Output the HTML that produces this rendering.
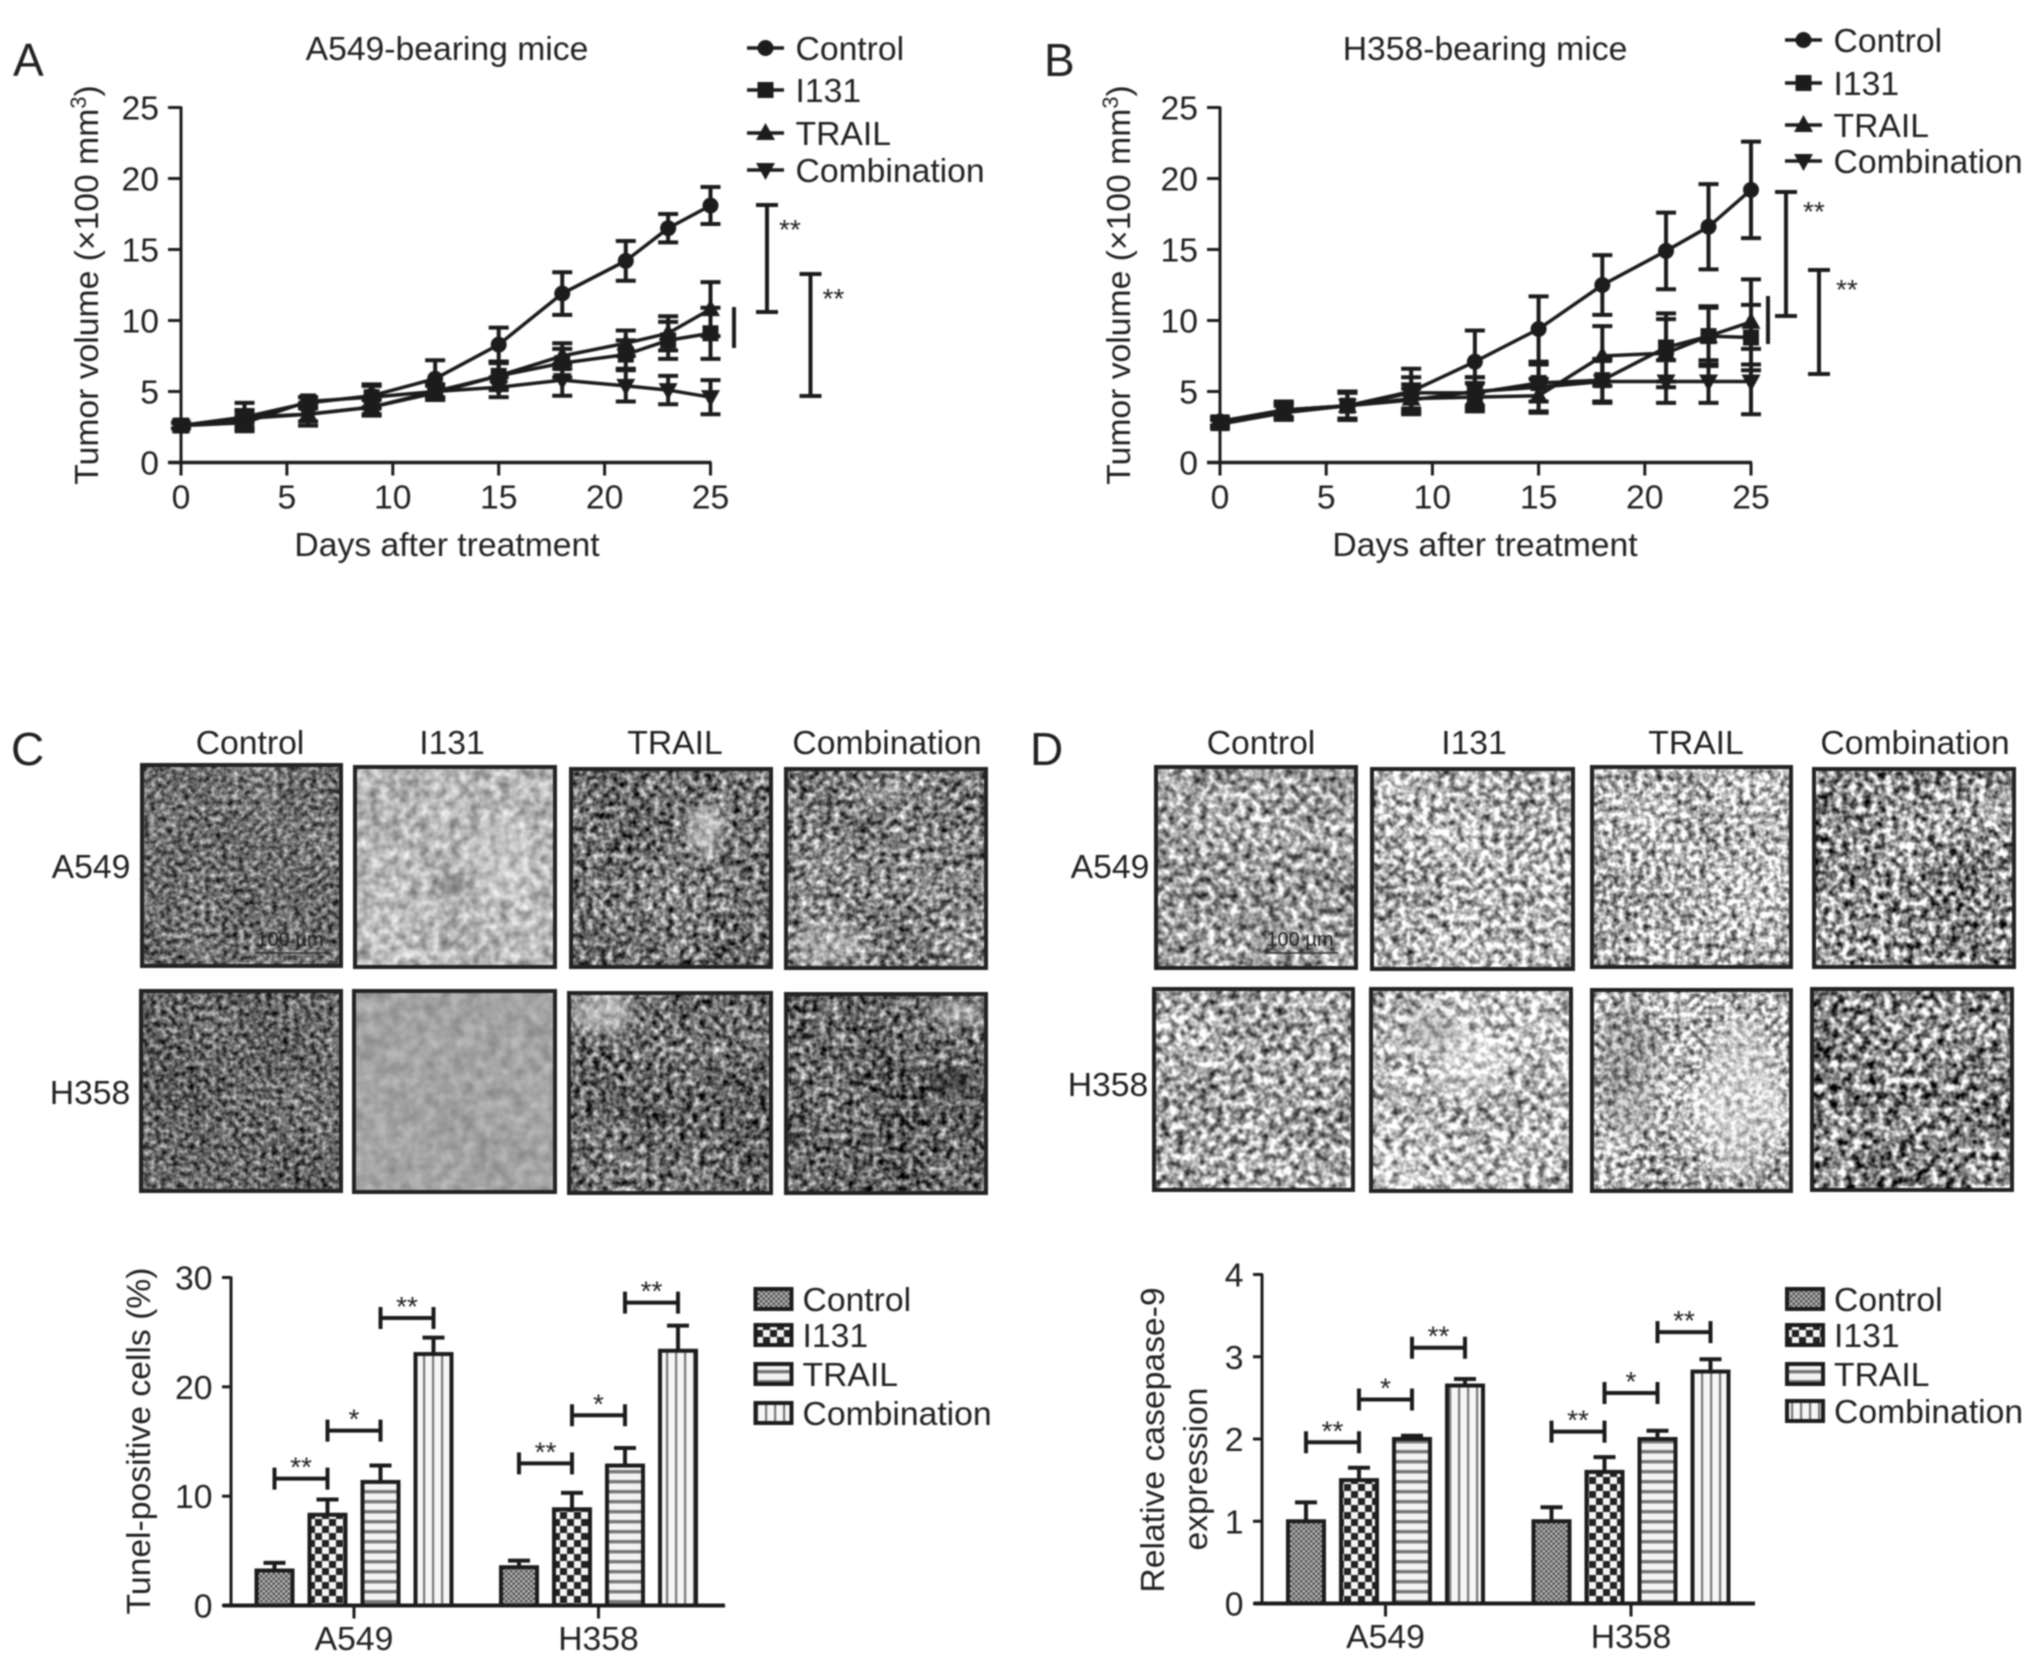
<!DOCTYPE html>
<html lang="en">
<head>
<meta charset="utf-8">
<title>Tumor volume, TUNEL and caspase-9 figure</title>
<style>
  html, body { margin: 0; padding: 0; background: #fff; }
  #figure { display: block; width: 2032px; height: 1678px; filter: blur(0.8px); }
  text { font-family: "Liberation Sans", sans-serif; font-size: 33.7px; fill: #222; }
</style>
</head>
<body>
<svg id="figure" xmlns="http://www.w3.org/2000/svg" width="2032" height="1678" viewBox="0 0 2032 1678">
  <defs id="defs">
    <pattern id="pat-control" width="5" height="5" patternUnits="userSpaceOnUse">
      <rect width="5" height="5" fill="#b5b5b5"/>
      <rect width="2.5" height="2.5" fill="#555"/>
      <rect x="2.5" y="2.5" width="2.5" height="2.5" fill="#555"/>
    </pattern>
    <pattern id="pat-i131" width="14" height="14" patternUnits="userSpaceOnUse">
      <rect width="14" height="14" fill="#f4f4f4"/>
      <rect width="7" height="7" fill="#222"/>
      <rect x="7" y="7" width="7" height="7" fill="#222"/>
    </pattern>
    <pattern id="pat-trail" width="10" height="10" patternUnits="userSpaceOnUse">
      <rect width="10" height="10" fill="#f2f2f2"/>
      <rect y="0" width="10" height="3.4" fill="#777"/>
    </pattern>
    <pattern id="pat-combination" width="9" height="10" patternUnits="userSpaceOnUse">
      <rect width="9" height="10" fill="#f6f6f6"/>
      <rect x="0" width="2.2" height="10" fill="#777"/>
    </pattern>
    <filter id="blob-blur" x="-50%" y="-50%" width="200%" height="200%"><feGaussianBlur stdDeviation="7"/></filter>
  </defs>

  <text x="13" y="76" style="font-size:46px">A</text>
  <text x="1044" y="76" style="font-size:46px">B</text>
  <text x="11" y="765" style="font-size:46px">C</text>
  <text x="1030" y="765" style="font-size:46px">D</text>

  <text x="447" y="60" text-anchor="middle">A549-bearing mice</text>
  <text x="1485" y="60" text-anchor="middle">H358-bearing mice</text>
  <text x="447" y="556" text-anchor="middle">Days after treatment</text>
  <text x="1485" y="556" text-anchor="middle">Days after treatment</text>
  <text transform="translate(98,285) rotate(-90)" text-anchor="middle">Tumor volume (×100 mm<tspan dy="-12" style="font-size:22px">3</tspan><tspan dy="12">)</tspan></text>
  <text transform="translate(1130,285) rotate(-90)" text-anchor="middle">Tumor volume (×100 mm<tspan dy="-12" style="font-size:22px">3</tspan><tspan dy="12">)</tspan></text>

  <text x="250" y="754" text-anchor="middle">Control</text>
  <text x="452" y="754" text-anchor="middle">I131</text>
  <text x="675" y="754" text-anchor="middle">TRAIL</text>
  <text x="887" y="754" text-anchor="middle">Combination</text>
  <text x="1261" y="754" text-anchor="middle">Control</text>
  <text x="1474" y="754" text-anchor="middle">I131</text>
  <text x="1696" y="754" text-anchor="middle">TRAIL</text>
  <text x="1915" y="754" text-anchor="middle">Combination</text>
  <text x="91" y="878" text-anchor="middle">A549</text>
  <text x="90" y="1104" text-anchor="middle">H358</text>
  <text x="1110" y="878" text-anchor="middle">A549</text>
  <text x="1108" y="1096" text-anchor="middle">H358</text>

  <g id="photos"></g>

  <text x="290" y="946" text-anchor="middle" style="font-size:20px">100 µm</text>
  <line x1="255" x2="327" y1="953" y2="953" stroke="#333" stroke-width="1.5"/>
  <text x="1300" y="946" text-anchor="middle" style="font-size:20px">100 µm</text>
  <line x1="1265" x2="1338" y1="953" y2="953" stroke="#333" stroke-width="1.5"/>

  <text transform="translate(150,1441) rotate(-90)" text-anchor="middle">Tunel-positive cells (%)</text>
  <text transform="translate(1164,1440) rotate(-90)" text-anchor="middle">Relative casepase-9</text>
  <text transform="translate(1207,1469) rotate(-90)" text-anchor="middle">expression</text>

  <g id="chart-a"></g>
  <g id="chart-b"></g>
  <g id="chart-c"></g>
  <g id="chart-d"></g>
</svg>

<script>
// ---------- Chart data ----------
const seriesNames = ['Control', 'I131', 'TRAIL', 'Combination'];
const lineXTicks = [0, 5, 10, 15, 20, 25];
const lineYTicks = [0, 5, 10, 15, 20, 25];
const days = [0, 3, 6, 9, 12, 15, 18, 21, 23, 25];

const a549Control = [2.6, 3.2, 4.2, 4.7, 5.9, 8.3, 11.9, 14.2, 16.5, 18.1];
const a549ControlErr = [0.2, 1.0, 0.4, 0.8, 1.3, 1.2, 1.5, 1.4, 1.0, 1.3];
const a549I131 = [2.6, 2.8, 4.3, 4.6, 5.0, 6.1, 7.0, 7.6, 8.6, 9.1];
const a549I131Err = [0.2, 0.5, 0.3, 0.8, 0.5, 0.9, 1.0, 1.0, 1.3, 1.8];
const a549Trail = [2.6, 3.2, 3.4, 3.9, 4.9, 6.1, 7.5, 8.4, 9.1, 10.8];
const a549TrailErr = [0.2, 0.4, 0.8, 0.6, 0.5, 1.0, 0.9, 0.9, 1.2, 1.9];
const a549Combination = [2.6, 3.1, 3.4, 3.9, 5.0, 5.3, 5.8, 5.4, 5.1, 4.6];
const a549CombinationErr = [0.2, 0.6, 0.5, 0.5, 0.5, 0.7, 1.1, 1.1, 1.0, 1.2];

const h358Control = [2.9, 3.6, 4.0, 5.0, 7.1, 9.4, 12.5, 14.9, 16.6, 19.2];
const h358ControlErr = [0.3, 0.5, 1.0, 1.6, 2.2, 2.3, 2.1, 2.7, 3.0, 3.4];
const h358I131 = [2.8, 3.7, 4.0, 4.9, 4.9, 5.6, 5.8, 8.1, 8.9, 8.8];
const h358I131Err = [0.3, 0.6, 1.0, 1.1, 1.1, 1.3, 1.5, 2.4, 2.1, 2.3];
const h358Trail = [2.7, 3.5, 4.0, 4.5, 4.6, 4.7, 7.5, 7.7, 8.9, 9.9];
const h358TrailErr = [0.3, 0.5, 0.9, 1.0, 1.0, 1.2, 2.1, 2.4, 2.0, 3.0];
const h358Combination = [2.9, 3.7, 4.0, 4.4, 5.0, 5.3, 5.7, 5.7, 5.7, 5.7];
const h358CombinationErr = [0.3, 0.5, 1.0, 0.8, 1.0, 1.7, 1.5, 1.5, 1.5, 2.3];

const groupNames = ['A549', 'H358'];
const tunelYTicks = [0, 10, 20, 30];
const tunelA549 = [3.2, 8.3, 11.3, 23.0];
const tunelA549Err = [0.7, 1.4, 1.5, 1.5];
const tunelH358 = [3.5, 8.8, 12.8, 23.3];
const tunelH358Err = [0.6, 1.5, 1.6, 2.3];
const tunelBracketLevels = [[11.6, 16.0, 26.3], [13.0, 17.4, 27.7]];

const caspaseYTicks = [0, 1, 2, 3, 4];
const caspaseA549 = [1.0, 1.5, 2.0, 2.65];
const caspaseA549Err = [0.23, 0.15, 0.04, 0.08];
const caspaseH358 = [1.0, 1.6, 2.0, 2.82];
const caspaseH358Err = [0.17, 0.18, 0.10, 0.15];
const caspaseBracketLevels = [[1.96, 2.48, 3.11], [2.09, 2.56, 3.30]];

const bracketLabels = ['**', '*', '**'];

// ---------- Helpers ----------
const NS = 'http://www.w3.org/2000/svg';
const INK = '#1c1c1c';
function mk(tag, attrs, parent) {
  const el = document.createElementNS(NS, tag);
  for (const k in attrs) el.setAttribute(k, attrs[k]);
  parent.appendChild(el);
  return el;
}
function seg(x1, y1, x2, y2, w, parent) {
  return mk('line', { x1: x1, y1: y1, x2: x2, y2: y2, stroke: INK, 'stroke-width': w }, parent);
}
function label(str, x, y, anchor, parent, size) {
  const t = mk('text', { x: x, y: y, 'text-anchor': anchor }, parent);
  if (size) t.style.fontSize = size + 'px';
  t.textContent = str;
  return t;
}
function marker(kind, x, y, parent) {
  if (kind === 0) return mk('circle', { cx: x, cy: y, r: 8, fill: INK }, parent);
  if (kind === 1) return mk('rect', { x: x - 8, y: y - 8, width: 16, height: 16, fill: INK }, parent);
  if (kind === 2) return mk('path', { d: 'M' + x + ' ' + (y - 10) + 'L' + (x + 9.5) + ' ' + (y + 7) + 'L' + (x - 9.5) + ' ' + (y + 7) + 'Z', fill: INK }, parent);
  return mk('path', { d: 'M' + x + ' ' + (y + 10) + 'L' + (x + 9.5) + ' ' + (y - 7) + 'L' + (x - 9.5) + ' ' + (y - 7) + 'Z', fill: INK }, parent);
}

// ---------- Line charts ----------
function drawLineChart(root, panel, cfg, values, errors) {
  const sx = v => cfg.x0 + (v / 25) * (cfg.x1 - cfg.x0);
  const sy = v => cfg.y0 - (v / 25) * (cfg.y0 - cfg.y1);

  const yAxis = seg(cfg.x0, cfg.y1 - 1, cfg.x0, cfg.y0 + 13, 3, root);
  
  
  const xAxis = seg(cfg.x0 - 13, cfg.y0, cfg.x1 + 1, cfg.y0, 3.5, root);
  
  

  lineYTicks.forEach(v => {
    const tick = seg(cfg.x0 - 13, sy(v), cfg.x0, sy(v), 3, root);
    
    
    const text = label(String(v), cfg.x0 - 22, sy(v) + 12, 'end', root);
    
    
  });
  lineXTicks.forEach(v => {
    const tick = seg(sx(v), cfg.y0, sx(v), cfg.y0 + 13, 3, root);
    
    
    const text = label(String(v), sx(v), cfg.y0 + 46, 'middle', root);
    
    
  });

  values.forEach((series, s) => {
    const g = mk('g', {}, root);
    
    
    const pts = series.map((v, i) => sx(days[i]) + ',' + sy(v)).join(' ');
    const line = mk('polyline', { points: pts, fill: 'none', stroke: INK, 'stroke-width': 3.5 }, g);
    
    
    series.forEach((v, i) => {
      const x = sx(days[i]);
      const e = errors[s][i];
      const bar = mk('path', {
        d: 'M' + x + ' ' + sy(v - e) + 'V' + sy(v + e) +
           'M' + (x - 10) + ' ' + sy(v - e) + 'H' + (x + 10) +
           'M' + (x - 10) + ' ' + sy(v + e) + 'H' + (x + 10),
        fill: 'none', stroke: INK, 'stroke-width': 4
      }, g);
      
      
      const m = marker(s, x, sy(v), g);
      
      
    });
  });

  cfg.legendY.forEach((y, s) => {
    const g = mk('g', {}, root);
    
    
    seg(cfg.legendX, y, cfg.legendX + 37, y, 3.5, g);
    marker(s, cfg.legendX + 18.5, y, g);
    label(seriesNames[s], cfg.legendX + 48.5, y + 12, 'start', g);
  });

  cfg.sig.forEach(b => {
    const g = mk('g', {}, root);
    
    
    mk('path', {
      d: 'M' + b.x + ' ' + b.top + 'V' + b.bottom + 'M' + (b.x - 11) + ' ' + b.top + 'H' + (b.x + 11) +
         'M' + (b.x - 11) + ' ' + b.bottom + 'H' + (b.x + 11),
      fill: 'none', stroke: INK, 'stroke-width': 4
    }, g);
    label('**', b.x + cfg.starDx, b.top + cfg.starDy, 'start', g, 28);
  });
  const plain = seg(cfg.sideBar.x, cfg.sideBar.top, cfg.sideBar.x, cfg.sideBar.bottom, 4, root);
  
  
}

drawLineChart(document.getElementById('chart-a'), 'panel-a',
  { x0: 181, x1: 710.5, y0: 462.5, y1: 107.5, legendX: 747, legendY: [48, 90, 133, 170], starDx: 12, starDy: 34,
    sig: [{ x: 767, top: 205, bottom: 312 }, { x: 810.5, top: 274, bottom: 396 }],
    sideBar: { x: 734, top: 307, bottom: 348 } },
  [a549Control, a549I131, a549Trail, a549Combination],
  [a549ControlErr, a549I131Err, a549TrailErr, a549CombinationErr]);

drawLineChart(document.getElementById('chart-b'), 'panel-b',
  { x0: 1220, x1: 1751, y0: 462.5, y1: 107.5, legendX: 1785, legendY: [40, 83, 125, 161], starDx: 17, starDy: 29,
    sig: [{ x: 1786, top: 192, bottom: 316 }, { x: 1819, top: 270, bottom: 374 }],
    sideBar: { x: 1768, top: 296, bottom: 344 } },
  [h358Control, h358I131, h358Trail, h358Combination],
  [h358ControlErr, h358I131Err, h358TrailErr, h358CombinationErr]);

// ---------- Bar charts ----------
const fills = ['url(#pat-control)', 'url(#pat-i131)', 'url(#pat-trail)', 'url(#pat-combination)'];
function drawBarChart(root, panel, cfg, values, errors, levels, yTicks) {
  const yMax = yTicks[yTicks.length - 1];
  const sy = v => cfg.y0 - (v / yMax) * (cfg.y0 - cfg.y1);
  const barX = (g, s) => cfg.centers[g] + (s - 1.5) * cfg.step;

  values.forEach((group, g) => {
    group.forEach((v, s) => {
      const x = barX(g, s);
      const err = mk('path', {
        d: 'M' + x + ' ' + sy(v) + 'V' + sy(v + errors[g][s]) + 'M' + (x - 11) + ' ' + sy(v + errors[g][s]) + 'H' + (x + 11),
        fill: 'none', stroke: INK, 'stroke-width': 4
      }, root);
      
      
      const bar = mk('rect', {
        x: x - cfg.barW / 2, y: sy(v), width: cfg.barW, height: cfg.y0 - sy(v),
        fill: fills[s], stroke: INK, 'stroke-width': 4
      }, root);
      
      
    });
    levels[g].forEach((lv, i) => {
      const br = mk('g', {}, root);
      
      
      const xa = barX(g, i), xb = barX(g, i + 1);
      mk('path', {
        d: 'M' + xa + ' ' + (sy(lv) - 11) + 'V' + (sy(lv) + 11) + 'M' + xb + ' ' + (sy(lv) - 11) + 'V' + (sy(lv) + 11) +
           'M' + xa + ' ' + sy(lv) + 'H' + xb,
        fill: 'none', stroke: INK, 'stroke-width': 4
      }, br);
      label(bracketLabels[i], (xa + xb) / 2, sy(lv) - 2, 'middle', br, 28);
    });
    const tick = seg(cfg.centers[g], cfg.y0, cfg.centers[g], cfg.y0 + 13, 3, root);
    
    
    const text = label(groupNames[g], cfg.centers[g], cfg.y0 + 44.5, 'middle', root);
    
    
  });

  const yAxis = seg(cfg.x0, cfg.y1 - 1, cfg.x0, cfg.y0, 3, root);
  
  
  const xAxis = seg(cfg.x0 - 8, cfg.y0, cfg.x1, cfg.y0, 4, root);
  
  
  yTicks.forEach(v => {
    const tick = seg(cfg.x0 - 9, sy(v), cfg.x0, sy(v), 3, root);
    
    
    const text = label(String(v), cfg.x0 - 18.5, sy(v) + 12, 'end', root);
    
    
  });

  cfg.legendY.forEach((y, s) => {
    const g = mk('g', {}, root);
    
    
    mk('rect', { x: cfg.legendX, y: y - 10, width: 36, height: 20, fill: fills[s], stroke: INK, 'stroke-width': 4 }, g);
    label(seriesNames[s], cfg.legendX + 47, y + 12, 'start', g);
  });
}

drawBarChart(document.getElementById('chart-c'), 'panel-c',
  { x0: 231, x1: 725, y0: 1605.5, y1: 1277.5, centers: [354, 598.5], step: 53, barW: 36, legendX: 755.5, legendY: [1299, 1335, 1374, 1413] },
  [tunelA549, tunelH358], [tunelA549Err, tunelH358Err], tunelBracketLevels, tunelYTicks);

drawBarChart(document.getElementById('chart-d'), 'panel-d',
  { x0: 1262, x1: 1755, y0: 1603.5, y1: 1274.5, centers: [1385.5, 1631], step: 53, barW: 36, legendX: 1787, legendY: [1299, 1335, 1374, 1411] },
  [caspaseA549, caspaseH358], [caspaseA549Err, caspaseH358Err], caspaseBracketLevels, caspaseYTicks);

// ---------- Micrographs (procedural texture, no raster) ----------
const micrographs = [
  ['c-a549-control', 140, 763, 343, 968, 0.44, 1.3, 0.18],
  ['c-a549-i131', 353, 765, 557, 969, 0.72, 0.8, 0.10],
  ['c-a549-trail', 569, 767, 773, 969, 0.45, 1.7, 0.15],
  ['c-a549-combination', 784, 767, 988, 970, 0.52, 1.7, 0.15],
  ['c-h358-control', 139, 989, 343, 1193, 0.40, 1.3, 0.18],
  ['c-h358-i131', 352, 989, 557, 1194, 0.64, 0.35, 0.08],
  ['c-h358-trail', 567, 991, 773, 1195, 0.42, 1.7, 0.15],
  ['c-h358-combination', 784, 992, 988, 1195, 0.40, 1.7, 0.15],
  ['d-a549-control', 1154, 765, 1358, 970, 0.63, 1.8, 0.13],
  ['d-a549-i131', 1370, 767, 1575, 971, 0.72, 1.9, 0.14],
  ['d-a549-trail', 1590, 765, 1793, 969, 0.72, 1.9, 0.16],
  ['d-a549-combination', 1812, 767, 2016, 969, 0.58, 2.3, 0.14],
  ['d-h358-control', 1152, 987, 1355, 1192, 0.66, 1.9, 0.13],
  ['d-h358-i131', 1369, 987, 1573, 1193, 0.76, 1.9, 0.13],
  ['d-h358-trail', 1590, 988, 1793, 1193, 0.72, 1.9, 0.16],
  ['d-h358-combination', 1810, 987, 2014, 1192, 0.54, 2.4, 0.13]
];
// Visible light / dark tissue patches: [centre x, centre y, radius x, radius y, grey, opacity]
const tissuePatches = [
  [707, 830, 16, 28, '#eee', 0.6],
  [455, 885, 14, 6, '#222', 0.7],
  [950, 1082, 20, 8, '#111', 0.7],
  [603, 1012, 32, 22, '#ddd', 0.6],
  [960, 1012, 32, 14, '#ddd', 0.5],
  [827, 945, 34, 20, '#e4e4e4', 0.4],
  [500, 860, 30, 40, '#eee', 0.25],
  [1740, 1100, 42, 80, '#f4f4f4', 0.4],
  [1630, 1070, 30, 70, '#666', 0.25],
  [1470, 1060, 34, 34, '#fff', 0.35],
  [1430, 1030, 26, 20, '#888', 0.35]
];
const defs = document.getElementById('defs');
const photos = document.getElementById('photos');
micrographs.forEach((p, i) => {
  const id = 'tex-' + i;
  const f = mk('filter', { id: id, x: 0, y: 0, width: 1, height: 1, 'color-interpolation-filters': 'sRGB' }, defs);
  mk('feTurbulence', { type: 'fractalNoise', baseFrequency: p[7], numOctaves: 2, seed: 11 + i * 3, result: 'fine0' }, f);
  mk('feColorMatrix', { in: 'fine0', type: 'matrix', values: '1 0 0 0 0 1 0 0 0 0 1 0 0 0 0 0 0 0 0 1', result: 'fine' }, f);
  mk('feTurbulence', { type: 'fractalNoise', baseFrequency: 0.014, numOctaves: 2, seed: 40 + i * 5, result: 'coarse0' }, f);
  mk('feColorMatrix', { in: 'coarse0', type: 'matrix', values: '1 0 0 0 0 1 0 0 0 0 1 0 0 0 0 0 0 0 0 1', result: 'coarse' }, f);
  mk('feComposite', { in: 'fine', in2: 'coarse', operator: 'arithmetic', k1: 0, k2: 0.85, k3: 0.15, k4: 0, result: 'mix' }, f);
  const k = p[6], c = p[5] - k / 2;
  mk('feColorMatrix', { in: 'mix', type: 'matrix', values: k + ' 0 0 0 ' + c + ' ' + k + ' 0 0 0 ' + c + ' ' + k + ' 0 0 0 ' + c + ' 0 0 0 0 1' }, f);

  const w = p[3] - p[1], h = p[4] - p[2];
  const clip = mk('clipPath', { id: 'clip-' + i }, defs);
  mk('rect', { x: p[1], y: p[2], width: w, height: h }, clip);

  const g = mk('g', { 'clip-path': 'url(#clip-' + i + ')' }, photos);
  
  
  mk('rect', { x: p[1], y: p[2], width: w, height: h, fill: '#888', filter: 'url(#' + id + ')' }, g);
  tissuePatches.forEach(t => {
    if (t[0] > p[1] && t[0] < p[3] && t[1] > p[2] && t[1] < p[4]) {
      mk('ellipse', { cx: t[0], cy: t[1], rx: t[2], ry: t[3], fill: t[4], opacity: t[5], filter: 'url(#blob-blur)' }, g);
    }
  });
  mk('rect', { x: p[1] + 2, y: p[2] + 2, width: w - 4, height: h - 4, fill: 'none', stroke: '#222', 'stroke-width': 4 }, g);
});
</script>
</body>
</html>
